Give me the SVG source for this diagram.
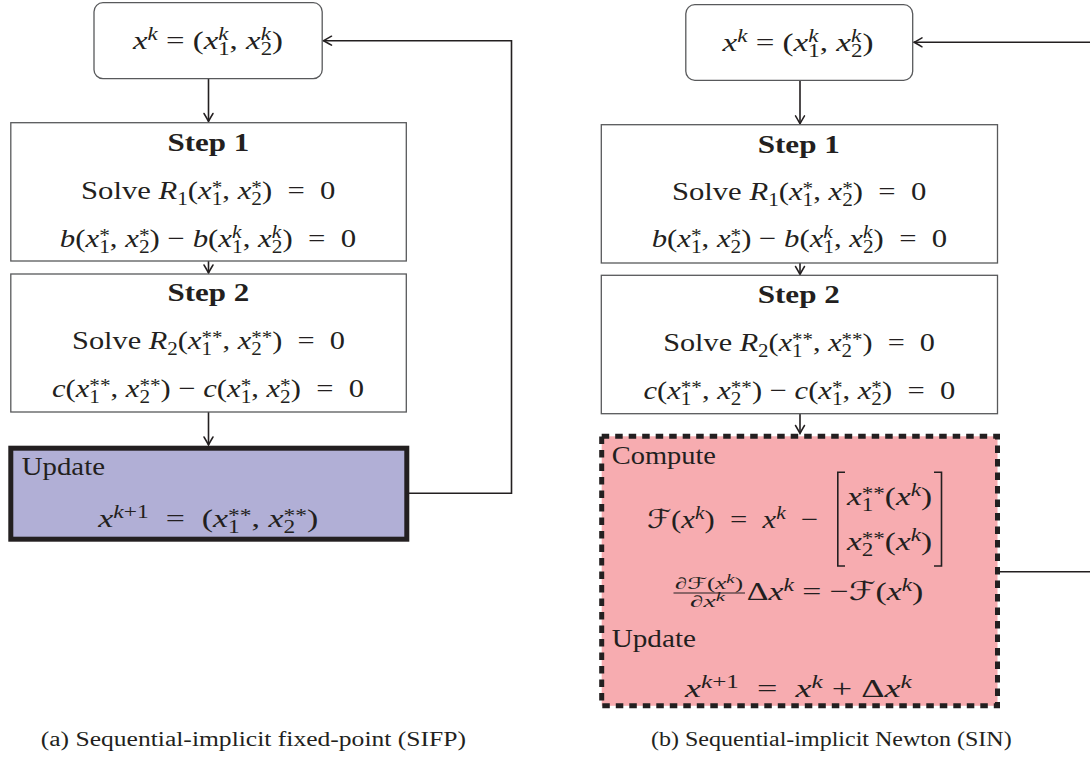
<svg xmlns="http://www.w3.org/2000/svg" width="1090" height="768" viewBox="0 0 1090 768">
<style>
.m{font-family:"Liberation Serif","Times New Roman",serif;font-size:26px;fill:#231f20}
.f{font-size:16px}
.i{font-style:italic}
.s{font-size:18px}
.ss{font-size:12px}
.b{font-weight:bold}
.cal{font-family:"DejaVu Sans",sans-serif;font-style:normal}
.cap{font-family:"Liberation Serif","Times New Roman",serif;font-size:20px;fill:#231f20}
.box{fill:#ffffff;stroke:#58595b;stroke-width:1.3}
.conn{fill:none;stroke:#231f20;stroke-width:1.6}
.upd{fill:#b1afd6;stroke:#231f20;stroke-width:5}
.cmp{fill:#f7acb0;stroke:#231f20;stroke-width:5;stroke-dasharray:7.5 6}
.br{fill:none;stroke:#231f20;stroke-width:1.6}
</style>
<defs>
<marker id="arr" markerUnits="userSpaceOnUse" markerWidth="12" markerHeight="14" viewBox="-10 -7 12 14" refX="0" refY="0" orient="auto"><path d="M-8,-4.5 Q-2.5,-1.2 0,0 Q-2.5,1.2 -8,4.5" fill="none" stroke="#231f20" stroke-width="1.5" stroke-linecap="round"/></marker>
</defs>

<g id="connectors">
<path class="conn" d="M208.5,78.7 V121.5" marker-end="url(#arr)"/>
<path class="conn" d="M208.5,261 V273" marker-end="url(#arr)"/>
<path class="conn" d="M208.5,412 V445" marker-end="url(#arr)"/>
<path class="conn" d="M409,493.3 H511.5 V40.7 H323.5" marker-end="url(#arr)"/>
<path class="conn" d="M800,80.3 V123.8" marker-end="url(#arr)"/>
<path class="conn" d="M800,263 V274.5" marker-end="url(#arr)"/>
<path class="conn" d="M800,413.7 V433.5" marker-end="url(#arr)"/>
<path class="conn" d="M1090,42.3 H914" marker-end="url(#arr)"/>
<path class="conn" d="M1000,571.7 H1090"/>
</g>

<g id="a-top">
<rect class="box" x="94" y="2.7" width="228.2" height="76" rx="9"/>
<text class="m" x="133" y="49.3" textLength="150" lengthAdjust="spacingAndGlyphs"><tspan class="i">x</tspan><tspan class="s i" dy="-9">k</tspan><tspan dy="9"> = (</tspan><tspan class="i">x</tspan><tspan class="s i" dy="-9">k</tspan><tspan class="s" dx="-8" dy="15">1</tspan><tspan dy="-6">, </tspan><tspan class="i">x</tspan><tspan class="s i" dy="-9">k</tspan><tspan class="s" dx="-8" dy="15">2</tspan><tspan dy="-6">)</tspan></text>
</g>

<g id="a-step1">
<rect class="box" x="10.8" y="122.7" width="395.5" height="138.3"/>
<text class="m b" x="167.5" y="150.7" textLength="81.7" lengthAdjust="spacingAndGlyphs">Step 1</text>
<text class="m" x="81" y="199" textLength="254.4" lengthAdjust="spacingAndGlyphs"><tspan>Solve </tspan><tspan class="i">R</tspan><tspan class="s" dy="6">1</tspan><tspan dy="-6">(</tspan><tspan class="i">x</tspan><tspan class="s" dy="-5">*</tspan><tspan class="s" dx="-9" dy="11">1</tspan><tspan dy="-6">, </tspan><tspan class="i">x</tspan><tspan class="s" dy="-5">*</tspan><tspan class="s" dx="-9" dy="11">2</tspan><tspan dy="-6">) &#160;=&#160; 0</tspan></text>
<text class="m" x="59.8" y="246.7" textLength="296.5" lengthAdjust="spacingAndGlyphs"><tspan class="i">b</tspan><tspan>(</tspan><tspan class="i">x</tspan><tspan class="s" dy="-5">*</tspan><tspan class="s" dx="-9" dy="11">1</tspan><tspan dy="-6">, </tspan><tspan class="i">x</tspan><tspan class="s" dy="-5">*</tspan><tspan class="s" dx="-9" dy="11">2</tspan><tspan dy="-6">) − </tspan><tspan class="i">b</tspan><tspan>(</tspan><tspan class="i">x</tspan><tspan class="s i" dy="-9">k</tspan><tspan class="s" dx="-8" dy="15">1</tspan><tspan dy="-6">, </tspan><tspan class="i">x</tspan><tspan class="s i" dy="-9">k</tspan><tspan class="s" dx="-8" dy="15">2</tspan><tspan dy="-6">) &#160;=&#160; 0</tspan></text>
</g>

<g id="a-step2">
<rect class="box" x="10.8" y="274" width="395.5" height="138"/>
<text class="m b" x="167.5" y="300.7" textLength="81.7" lengthAdjust="spacingAndGlyphs">Step 2</text>
<text class="m" x="72" y="349" textLength="273" lengthAdjust="spacingAndGlyphs"><tspan>Solve </tspan><tspan class="i">R</tspan><tspan class="s" dy="6">2</tspan><tspan dy="-6">(</tspan><tspan class="i">x</tspan><tspan class="s" dy="-5">**</tspan><tspan class="s" dx="-18" dy="11">1</tspan><tspan dx="9" dy="-6">, </tspan><tspan class="i">x</tspan><tspan class="s" dy="-5">**</tspan><tspan class="s" dx="-18" dy="11">2</tspan><tspan dx="9" dy="-6">) &#160;=&#160; 0</tspan></text>
<text class="m" x="52" y="396.7" textLength="312" lengthAdjust="spacingAndGlyphs"><tspan class="i">c</tspan><tspan>(</tspan><tspan class="i">x</tspan><tspan class="s" dy="-5">**</tspan><tspan class="s" dx="-18" dy="11">1</tspan><tspan dx="9" dy="-6">, </tspan><tspan class="i">x</tspan><tspan class="s" dy="-5">**</tspan><tspan class="s" dx="-18" dy="11">2</tspan><tspan dx="9" dy="-6">) − </tspan><tspan class="i">c</tspan><tspan>(</tspan><tspan class="i">x</tspan><tspan class="s" dy="-5">*</tspan><tspan class="s" dx="-9" dy="11">1</tspan><tspan dy="-6">, </tspan><tspan class="i">x</tspan><tspan class="s" dy="-5">*</tspan><tspan class="s" dx="-9" dy="11">2</tspan><tspan dy="-6">) &#160;=&#160; 0</tspan></text>
</g>

<g id="a-update">
<rect class="upd" x="10.8" y="448.2" width="396" height="91"/>
<text class="m" x="21.7" y="475" textLength="83.3" lengthAdjust="spacingAndGlyphs">Update</text>
<text class="m" x="98.3" y="526.5" textLength="220" lengthAdjust="spacingAndGlyphs"><tspan class="i">x</tspan><tspan class="s" dy="-9"><tspan class="i">k</tspan>+1</tspan><tspan dy="9"> &#160;=&#160; (</tspan><tspan class="i">x</tspan><tspan class="s" dy="-5">**</tspan><tspan class="s" dx="-18" dy="11">1</tspan><tspan dx="9" dy="-6">, </tspan><tspan class="i">x</tspan><tspan class="s" dy="-5">**</tspan><tspan class="s" dx="-18" dy="11">2</tspan><tspan dx="9" dy="-6">)</tspan></text>
</g>

<g id="b-top">
<rect class="box" x="685.8" y="4.7" width="226.9" height="75.6" rx="9"/>
<text class="m" x="722.5" y="50.7" textLength="151" lengthAdjust="spacingAndGlyphs"><tspan class="i">x</tspan><tspan class="s i" dy="-9">k</tspan><tspan dy="9"> = (</tspan><tspan class="i">x</tspan><tspan class="s i" dy="-9">k</tspan><tspan class="s" dx="-8" dy="15">1</tspan><tspan dy="-6">, </tspan><tspan class="i">x</tspan><tspan class="s i" dy="-9">k</tspan><tspan class="s" dx="-8" dy="15">2</tspan><tspan dy="-6">)</tspan></text>
</g>

<g id="b-step1">
<rect class="box" x="601.3" y="124.7" width="396.2" height="138.3"/>
<text class="m b" x="757.7" y="152.7" textLength="82.1" lengthAdjust="spacingAndGlyphs">Step 1</text>
<text class="m" x="671.9" y="200" textLength="254.4" lengthAdjust="spacingAndGlyphs"><tspan>Solve </tspan><tspan class="i">R</tspan><tspan class="s" dy="6">1</tspan><tspan dy="-6">(</tspan><tspan class="i">x</tspan><tspan class="s" dy="-5">*</tspan><tspan class="s" dx="-9" dy="11">1</tspan><tspan dy="-6">, </tspan><tspan class="i">x</tspan><tspan class="s" dy="-5">*</tspan><tspan class="s" dx="-9" dy="11">2</tspan><tspan dy="-6">) &#160;=&#160; 0</tspan></text>
<text class="m" x="651.7" y="247.3" textLength="295.5" lengthAdjust="spacingAndGlyphs"><tspan class="i">b</tspan><tspan>(</tspan><tspan class="i">x</tspan><tspan class="s" dy="-5">*</tspan><tspan class="s" dx="-9" dy="11">1</tspan><tspan dy="-6">, </tspan><tspan class="i">x</tspan><tspan class="s" dy="-5">*</tspan><tspan class="s" dx="-9" dy="11">2</tspan><tspan dy="-6">) − </tspan><tspan class="i">b</tspan><tspan>(</tspan><tspan class="i">x</tspan><tspan class="s i" dy="-9">k</tspan><tspan class="s" dx="-8" dy="15">1</tspan><tspan dy="-6">, </tspan><tspan class="i">x</tspan><tspan class="s i" dy="-9">k</tspan><tspan class="s" dx="-8" dy="15">2</tspan><tspan dy="-6">) &#160;=&#160; 0</tspan></text>
</g>

<g id="b-step2">
<rect class="box" x="601.3" y="275.3" width="396.2" height="138.4"/>
<text class="m b" x="757.7" y="302.7" textLength="82.1" lengthAdjust="spacingAndGlyphs">Step 2</text>
<text class="m" x="663.2" y="350.7" textLength="271.8" lengthAdjust="spacingAndGlyphs"><tspan>Solve </tspan><tspan class="i">R</tspan><tspan class="s" dy="6">2</tspan><tspan dy="-6">(</tspan><tspan class="i">x</tspan><tspan class="s" dy="-5">**</tspan><tspan class="s" dx="-18" dy="11">1</tspan><tspan dx="9" dy="-6">, </tspan><tspan class="i">x</tspan><tspan class="s" dy="-5">**</tspan><tspan class="s" dx="-18" dy="11">2</tspan><tspan dx="9" dy="-6">) &#160;=&#160; 0</tspan></text>
<text class="m" x="643.4" y="399" textLength="311.8" lengthAdjust="spacingAndGlyphs"><tspan class="i">c</tspan><tspan>(</tspan><tspan class="i">x</tspan><tspan class="s" dy="-5">**</tspan><tspan class="s" dx="-18" dy="11">1</tspan><tspan dx="9" dy="-6">, </tspan><tspan class="i">x</tspan><tspan class="s" dy="-5">**</tspan><tspan class="s" dx="-18" dy="11">2</tspan><tspan dx="9" dy="-6">) − </tspan><tspan class="i">c</tspan><tspan>(</tspan><tspan class="i">x</tspan><tspan class="s" dy="-5">*</tspan><tspan class="s" dx="-9" dy="11">1</tspan><tspan dy="-6">, </tspan><tspan class="i">x</tspan><tspan class="s" dy="-5">*</tspan><tspan class="s" dx="-9" dy="11">2</tspan><tspan dy="-6">) &#160;=&#160; 0</tspan></text>
</g>

<g id="b-compute">
<rect class="cmp" x="601.7" y="436.3" width="395.8" height="269.5"/>
<text class="m" x="611.7" y="464" textLength="104.3" lengthAdjust="spacingAndGlyphs">Compute</text>
<text class="m" x="647" y="528.3" textLength="171.3" lengthAdjust="spacingAndGlyphs"><tspan class="cal">ℱ</tspan><tspan>(</tspan><tspan class="i">x</tspan><tspan class="s i" dy="-9">k</tspan><tspan dy="9">) &#160;=&#160; </tspan><tspan class="i">x</tspan><tspan class="s i" dy="-9">k</tspan><tspan dy="9"> &#160;−</tspan></text>
<path class="br" d="M845,472.3 H837.8 V566 H845"/>
<path class="br" d="M934,472.3 H941.5 V566 H934"/>
<text class="m" x="847" y="505" textLength="85" lengthAdjust="spacingAndGlyphs"><tspan class="i">x</tspan><tspan class="s" dy="-5">**</tspan><tspan class="s" dx="-18" dy="11">1</tspan><tspan dx="9" dy="-6">(</tspan><tspan class="i">x</tspan><tspan class="s i" dy="-9">k</tspan><tspan dy="9">)</tspan></text>
<text class="m" x="847" y="550" textLength="85" lengthAdjust="spacingAndGlyphs"><tspan class="i">x</tspan><tspan class="s" dy="-5">**</tspan><tspan class="s" dx="-18" dy="11">2</tspan><tspan dx="9" dy="-6">(</tspan><tspan class="i">x</tspan><tspan class="s i" dy="-9">k</tspan><tspan dy="9">)</tspan></text>
<text class="m f" x="675" y="588.5" textLength="68" lengthAdjust="spacingAndGlyphs"><tspan>∂</tspan><tspan class="cal">ℱ</tspan><tspan>(</tspan><tspan class="i">x</tspan><tspan class="ss i" dy="-6">k</tspan><tspan dy="6">)</tspan></text>
<line x1="673.5" y1="593" x2="745" y2="593" stroke="#231f20" stroke-width="1"/>
<text class="m f" x="690" y="607" textLength="35" lengthAdjust="spacingAndGlyphs"><tspan>∂</tspan><tspan class="i">x</tspan><tspan class="ss i" dy="-6">k</tspan></text>
<text class="m" x="746.7" y="600" textLength="176.7" lengthAdjust="spacingAndGlyphs"><tspan>Δ</tspan><tspan class="i">x</tspan><tspan class="s i" dy="-9">k</tspan><tspan dy="9"> = −</tspan><tspan class="cal">ℱ</tspan><tspan>(</tspan><tspan class="i">x</tspan><tspan class="s i" dy="-9">k</tspan><tspan dy="9">)</tspan></text>
<text class="m" x="611.7" y="646.7" textLength="84.3" lengthAdjust="spacingAndGlyphs">Update</text>
<text class="m" x="685" y="696.7" textLength="226.7" lengthAdjust="spacingAndGlyphs"><tspan class="i">x</tspan><tspan class="s" dy="-9"><tspan class="i">k</tspan>+1</tspan><tspan dy="9"> &#160;=&#160; </tspan><tspan class="i">x</tspan><tspan class="s i" dy="-9">k</tspan><tspan dy="9"> + Δ</tspan><tspan class="i">x</tspan><tspan class="s i" dy="-9">k</tspan></text>
</g>

<g id="captions">
<text class="cap" x="40.7" y="745.7" textLength="425.3" lengthAdjust="spacingAndGlyphs">(a) Sequential-implicit fixed-point (SIFP)</text>
<text class="cap" x="651" y="746" textLength="360.7" lengthAdjust="spacingAndGlyphs">(b) Sequential-implicit Newton (SIN)</text>
</g>
</svg>
